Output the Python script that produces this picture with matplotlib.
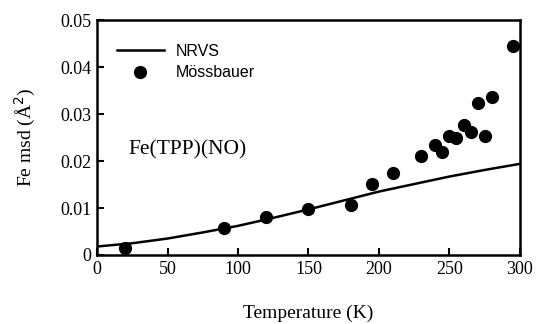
import numpy as np
import matplotlib.pyplot as plt

# NRVS curve
nrvs_T = [0, 25, 50, 75, 100, 125, 150, 175, 200, 225, 250, 275, 300]
nrvs_msd = [0.0018, 0.0025, 0.0035, 0.0048, 0.0062, 0.0079, 0.0097,
            0.0116, 0.0135, 0.0151, 0.0167, 0.0181, 0.0194]

# Mossbauer points
moss_T = [20, 90, 120, 150, 180, 195, 210, 230, 240, 245, 250, 255,
          260, 265, 270, 275, 280, 295]
moss_msd = [0.0014, 0.0058, 0.0080, 0.0097, 0.0106, 0.0152, 0.0174, 0.0211,
            0.0234, 0.0220, 0.0253, 0.0248, 0.0276, 0.0262, 0.0323, 0.0253,
            0.0336, 0.0445]

xticks = [0, 50, 100, 150, 200, 250, 300]
yticks = [0, 0.01, 0.02, 0.03, 0.04, 0.05]
ytick_labels = ['0', '0.01', '0.02', '0.03', '0.04', '0.05']

serif = 'Liberation Serif'
sans = 'Liberation Sans'

fig = plt.figure(figsize=(5.36, 3.24), dpi=100)
ax = fig.add_axes([0.181, 0.213, 0.789, 0.725])

ax.plot(nrvs_T, nrvs_msd, color='black', lw=1.8, label='NRVS')
ax.plot(moss_T, moss_msd, 'o', color='black', ms=8.5, linestyle='none',
        label='Mössbauer')

ax.set_xlim(0, 300)
ax.set_ylim(0, 0.05)
ax.set_xticks(xticks)
ax.set_xticklabels([str(t) for t in xticks], fontfamily=serif, fontsize=13)
ax.set_yticks(yticks)
ax.set_yticklabels(ytick_labels, fontfamily=serif, fontsize=13)
ax.tick_params(direction='in', length=5, width=1.5, top=False, right=False, pad=4)
for s in ax.spines.values():
    s.set_linewidth(1.8)

# x label sits near the bottom edge of the figure
ax.set_xlabel('Temperature (K)', fontfamily=serif, fontsize=14, va='baseline')
ax.xaxis.set_label_coords(0.5, -0.27)
ax.set_ylabel('Fe msd (Å$^2$)', fontfamily=serif, fontsize=14, labelpad=16)

ax.text(22, 0.0213, 'Fe(TPP)(NO)', fontfamily=serif, fontsize=15.5)

leg = ax.legend(loc='upper left', frameon=False, prop={'family': sans, 'size': 11.5},
                handlelength=2.95, handletextpad=0.75, borderaxespad=0,
                borderpad=0, labelspacing=0.4, bbox_to_anchor=(0.047, 0.898))

fig.savefig('out.png', dpi=100)
